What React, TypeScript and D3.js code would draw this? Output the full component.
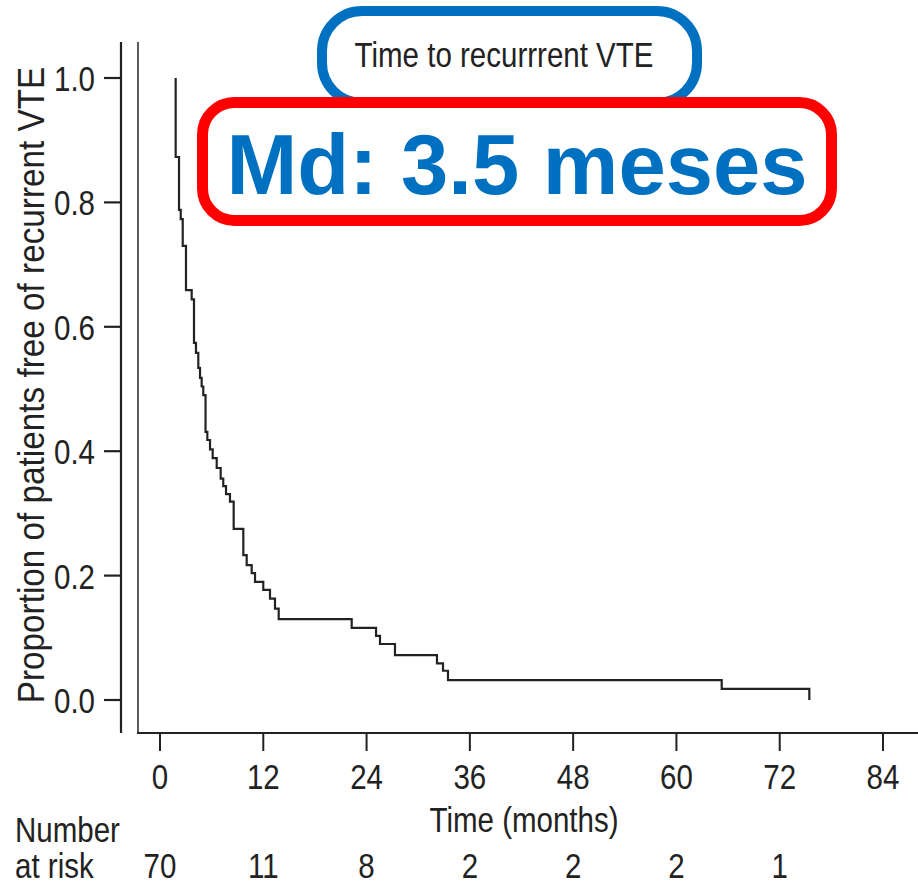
import React from "react";
import * as d3 from "d3";

const xTicks = [0, 12, 24, 36, 48, 60, 72, 84];
const yTicks = [0, 0.2, 0.4, 0.6, 0.8, 1.0];
const atRisk = [70, 11, 8, 2, 2, 2, 1];
const startTime = 1.82;
const stepTimes = [1.82, 2.21, 2.41, 2.64, 3.02, 3.68, 3.95, 4.18, 4.45, 4.65, 4.84, 5.03, 5.29, 5.5, 5.81, 6.12, 6.59, 7.05, 7.35, 7.67, 8.13, 8.56, 9.68, 10.07, 10.65, 11.04, 12.0, 12.78, 13.36, 13.79, 22.27, 25.1, 25.56, 27.3, 32.18, 32.88, 33.46, 65.26, 75.44];
const stepValues = [0.873, 0.788, 0.773, 0.73, 0.659, 0.644, 0.574, 0.558, 0.534, 0.518, 0.504, 0.49, 0.431, 0.418, 0.403, 0.389, 0.373, 0.356, 0.344, 0.331, 0.319, 0.275, 0.233, 0.217, 0.204, 0.19, 0.177, 0.163, 0.147, 0.13, 0.116, 0.103, 0.09, 0.072, 0.059, 0.047, 0.032, 0.018, 0.0];

const FONT = "'Liberation Sans', Arial, sans-serif";

function NText(props: {
  x: number;
  y: number;
  anchor?: "start" | "middle" | "end";
  size?: number;
  rotate?: number;
  sx?: number;
  dy?: string;
  children: React.ReactNode;
}) {
  const { x, y, anchor = "start", size = 36, rotate = 0, sx = 0.82, dy, children } = props;
  return (
    <text
      transform={`translate(${x},${y}) rotate(${rotate}) scale(${sx},1)`}
      textAnchor={anchor}
      fontFamily={FONT}
      fontSize={size}
      dy={dy}
      fill="#222"
    >
      {children}
    </text>
  );
}

export default function App() {
  const x = d3.scaleLinear().domain([0, 84]).range([160, 883]);
  const y = d3.scaleLinear().domain([0, 1]).range([700, 78]);

  const pts: [number, number][] = [[startTime, 1.0]];
  stepTimes.forEach((t, i) => pts.push([t, stepValues[i]]));
  const line = d3
    .line<[number, number]>()
    .x((d) => x(d[0]))
    .y((d) => y(d[1]))
    .curve(d3.curveStepAfter);

  return (
    <svg width={918} height={885} style={{ position: "absolute", left: 0, top: 0, background: "#fff" }}>
      {/* axes */}
      <line x1={121} x2={121} y1={42} y2={733} stroke="#222" strokeWidth={2.2} />
      <line x1={138} x2={138} y1={42} y2={733} stroke="#333" strokeWidth={1.6} />
      <line x1={137} x2={918} y1={733} y2={733} stroke="#222" strokeWidth={2} />
      {yTicks.map((v) => (
        <g key={v}>
          <line x1={104} x2={121} y1={y(v)} y2={y(v)} stroke="#222" strokeWidth={2.2} />
          <NText x={95} y={y(v)} dy="0.36em" anchor="end">
            {v.toFixed(1)}
          </NText>
        </g>
      ))}
      {xTicks.map((t) => (
        <g key={t}>
          <line x1={x(t)} x2={x(t)} y1={733} y2={751} stroke="#222" strokeWidth={2} />
          <NText x={x(t)} y={789} anchor="middle">
            {t}
          </NText>
        </g>
      ))}
      <NText x={524} y={832} anchor="middle">
        Time (months)
      </NText>
      <NText x={44} y={385} anchor="middle" rotate={-90} size={37} sx={0.9}>
        Proportion of patients free of recurrent VTE
      </NText>
      <NText x={15} y={842}>Number</NText>
      <NText x={15} y={878}>at risk</NText>
      {atRisk.map((n, i) => (
        <NText key={i} x={x(xTicks[i])} y={878} anchor="middle">
          {n}
        </NText>
      ))}
      {/* curve */}
      <path d={line(pts) || ""} fill="none" stroke="#222" strokeWidth={2.2} />
      {/* annotation boxes */}
      <rect x={322} y={11} width={375} height={92} rx={40} fill="#fff" stroke="#0070C0" strokeWidth={10} />
      <NText x={504} y={67} anchor="middle">
        Time to recurrrent VTE
      </NText>
      <rect x={202.5} y={102.5} width={629} height={118} rx={32} fill="#fff" stroke="#FF0000" strokeWidth={11} />
      <text x={517} y={194} textAnchor="middle" fontFamily={FONT} fontWeight="bold" fontSize={85} fill="#0070C0">
        Md: 3.5 meses
      </text>
    </svg>
  );
}
